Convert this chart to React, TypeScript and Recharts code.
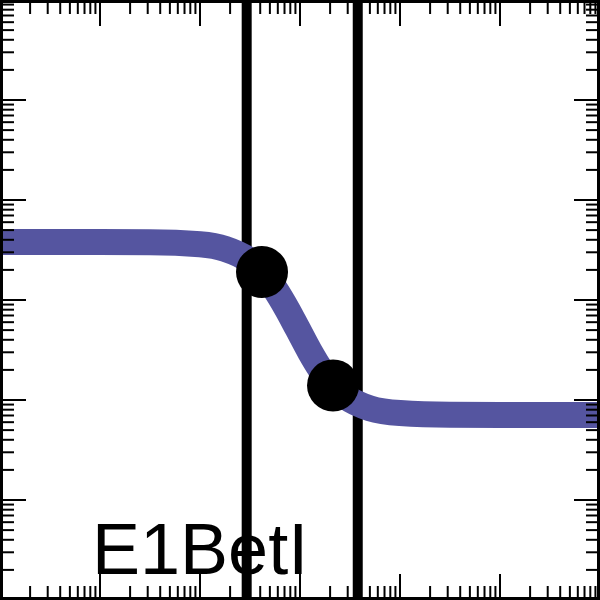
import { LineChart, Line, XAxis, YAxis, ReferenceLine, ReferenceDot } from 'recharts';

// dose axis (log) and response axis (log), both span six decades
const domain: [number, number] = [0.001, 1000];
const majorTicks = [0.001, 0.01, 0.1, 1, 10, 100, 1000];
const minorSteps = [2, 3, 4, 5, 6, 7, 8, 9];
const minorTicks = majorTicks.slice(0, -1).flatMap((d) => minorSteps.map((k) => d * k));

// fitted curve
const doses = [0.001, 0.01, 0.0316, 0.1, 0.178, 0.316, 0.417, 0.562, 0.75, 0.944, 1.26, 1.585, 2.14, 2.82, 5.01, 10, 31.6, 100, 1000];
const responses = [3.8, 3.8, 3.79, 3.61, 3.25, 2.46, 1.905, 1.29, 0.798, 0.519, 0.302, 0.2065, 0.14, 0.109, 0.0826, 0.074, 0.0711, 0.0708, 0.0708];

// measured points and bounds
const points = [
  { dose: 0.417, response: 1.905 },
  { dose: 2.14, response: 0.14 },
];
const bounds = [0.293, 3.78];

const curve = doses.map((dose, i) => ({ dose, response: responses[i] }));

const tickStyle = { stroke: '#000', strokeWidth: 2 };
const frame = { stroke: '#000', strokeWidth: 6 };
// no tick labels, but keep the tick marks
const noLabel = () => <g />;

export default function App() {
  return (
    <div style={{ position: 'absolute', left: 0, top: 0, background: '#fff' }}>
      <LineChart width={600} height={600} data={curve} margin={{ top: 0, right: 0, bottom: 0, left: 0 }}>
        <XAxis xAxisId="bM" dataKey="dose" type="number" scale="log" domain={domain} allowDataOverflow
          orientation="bottom" mirror height={1} ticks={majorTicks} interval={0} tick={noLabel}
          tickSize={26} tickLine={tickStyle} axisLine={frame} />
        <XAxis xAxisId="bm" dataKey="dose" type="number" scale="log" domain={domain} allowDataOverflow
          orientation="bottom" mirror height={1} ticks={minorTicks} interval={0} tick={noLabel}
          tickSize={13} tickLine={tickStyle} axisLine={false} />
        <XAxis xAxisId="tM" dataKey="dose" type="number" scale="log" domain={domain} allowDataOverflow
          orientation="top" mirror height={1} ticks={majorTicks} interval={0} tick={noLabel}
          tickSize={26} tickLine={tickStyle} axisLine={frame} />
        <XAxis xAxisId="tm" dataKey="dose" type="number" scale="log" domain={domain} allowDataOverflow
          orientation="top" mirror height={1} ticks={minorTicks} interval={0} tick={noLabel}
          tickSize={13} tickLine={tickStyle} axisLine={false} />
        <YAxis yAxisId="lM" type="number" scale="log" domain={domain} allowDataOverflow
          orientation="left" mirror width={1} ticks={majorTicks} interval={0} tick={noLabel}
          tickSize={26} tickLine={tickStyle} axisLine={frame} />
        <YAxis yAxisId="lm" type="number" scale="log" domain={domain} allowDataOverflow
          orientation="left" mirror width={1} ticks={minorTicks} interval={0} tick={noLabel}
          tickSize={13} tickLine={tickStyle} axisLine={false} />
        <YAxis yAxisId="rM" type="number" scale="log" domain={domain} allowDataOverflow
          orientation="right" mirror width={1} ticks={majorTicks} interval={0} tick={noLabel}
          tickSize={26} tickLine={tickStyle} axisLine={frame} />
        <YAxis yAxisId="rm" type="number" scale="log" domain={domain} allowDataOverflow
          orientation="right" mirror width={1} ticks={minorTicks} interval={0} tick={noLabel}
          tickSize={13} tickLine={tickStyle} axisLine={false} />

        {bounds.map((b) => (
          <ReferenceLine key={b} x={b} xAxisId="bM" yAxisId="lM" stroke="#000" strokeWidth={10} />
        ))}

        <Line xAxisId="bM" yAxisId="lM" type="monotone" dataKey="response" stroke="#5555a0"
          strokeWidth={26} dot={false} activeDot={false} isAnimationActive={false} />

        {points.map((p) => (
          <ReferenceDot key={p.dose} xAxisId="bM" yAxisId="lM" x={p.dose} y={p.response}
            r={26} fill="#000" stroke="none" />
        ))}

        <text x={92} y={574} fontSize={72} fontFamily="'Liberation Sans', Arial, sans-serif" fill="#000">
          E1BetI
        </text>
      </LineChart>
    </div>
  );
}
